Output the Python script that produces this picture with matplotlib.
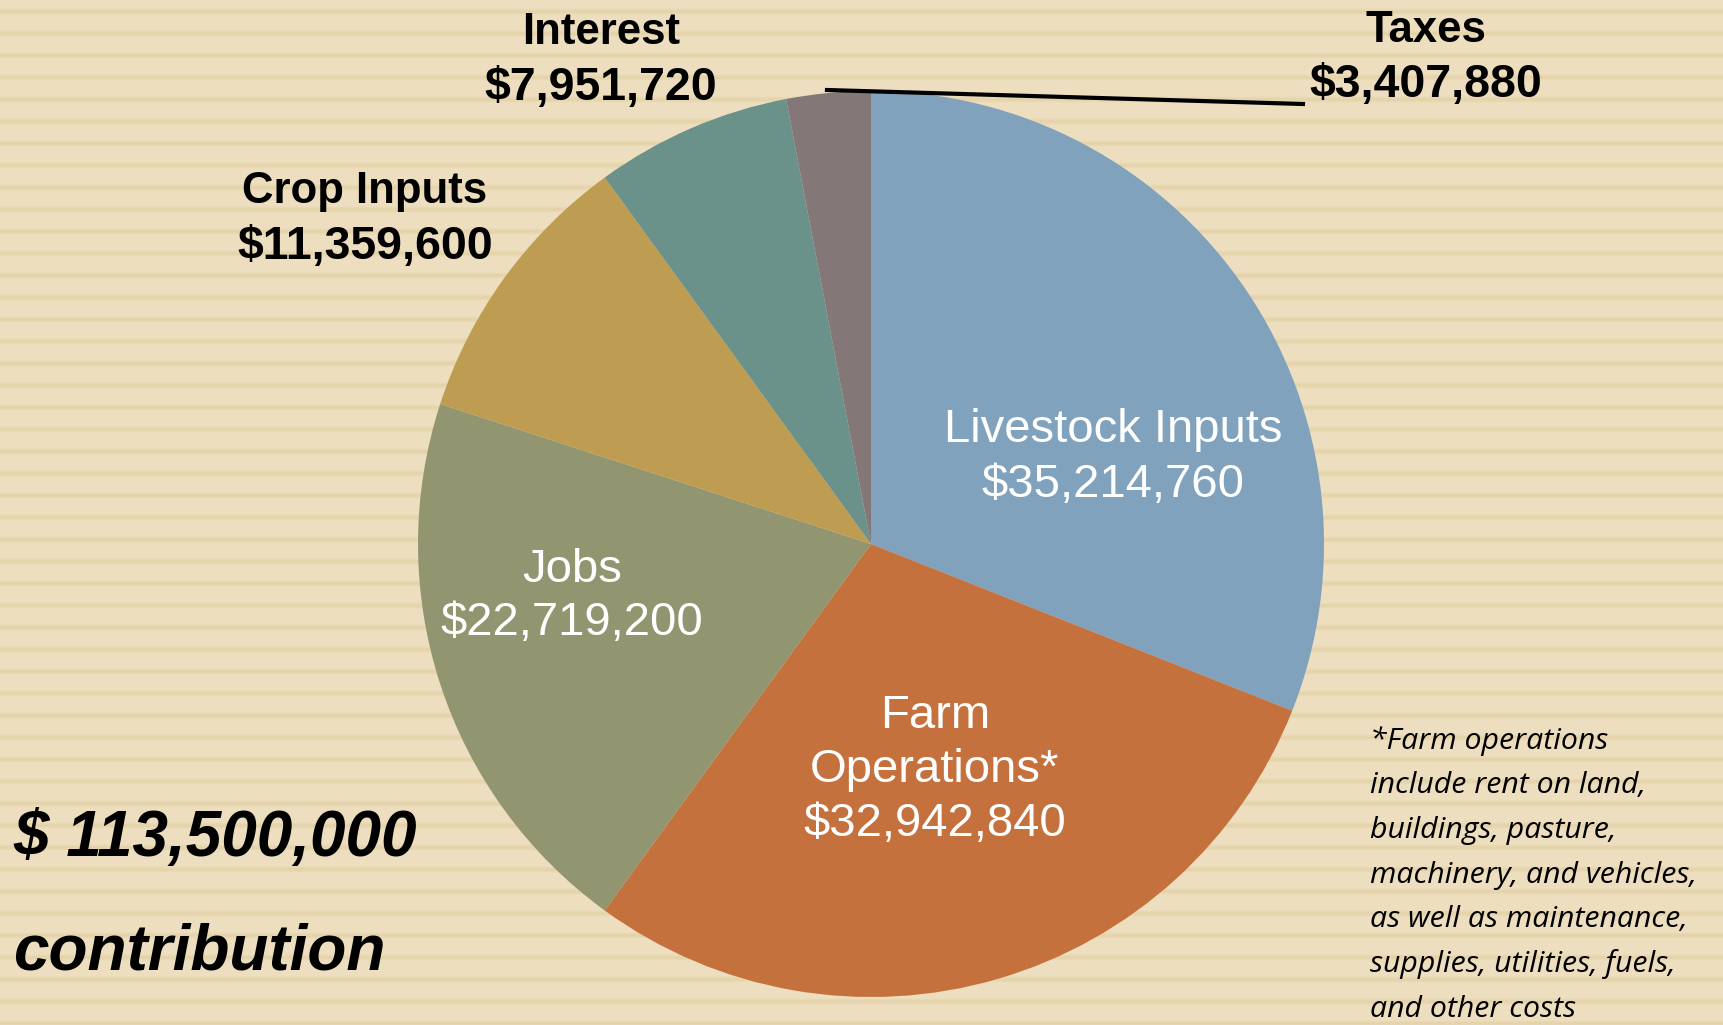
import numpy as np
import matplotlib
matplotlib.use("Agg")
import matplotlib.pyplot as plt

# ---- data ----
categories = ["Livestock Inputs", "Farm Operations*", "Jobs", "Crop Inputs", "Interest", "Taxes"]
values = [35214760, 32942840, 22719200, 11359600, 7951720, 3407880]
value_labels = ["$35,214,760", "$32,942,840", "$22,719,200", "$11,359,600", "$7,951,720", "$3,407,880"]
colors = ["#80A2BD", "#C4713E", "#929670", "#BE9C52", "#6A918A", "#837877"]
total_label = "$ 113,500,000"
footnote = ["*Farm operations", "include rent on land,", "buildings, pasture,",
            "machinery, and vehicles,", "as well as maintenance,",
            "supplies, utilities, fuels,", "and other costs"]

W, H = 1724, 1025
fig = plt.figure(figsize=(W / 100, H / 100), dpi=100)

# striped background
bg = fig.add_axes([0, 0, 1, 1])
rows = np.arange(H)
phase = (rows % 22) / 22.0
shade = np.exp(-((phase - 0.5) ** 2) / (2 * 0.08 ** 2))
light = np.array([238, 223, 193]) / 255
dark = np.array([229, 211, 170]) / 255
img = light[None, :] * (1 - shade[:, None]) + dark[None, :] * shade[:, None]
img = np.repeat(img[:, None, :], 8, axis=1)
bg.imshow(img, aspect="auto", extent=[0, 1, 0, 1], interpolation="bilinear")
bg.set_axis_off()

def px(x, y):
    return x / W, 1 - y / H

# pie
cx, cy, r = 871, 544, 453
ax = fig.add_axes([(cx - r) / W, (H - cy - r) / H, 2 * r / W, 2 * r / H])
ax.pie(values, colors=colors, startangle=90, counterclock=False, radius=1,
       wedgeprops=dict(linewidth=0))
ax.set_xlim(-1, 1)
ax.set_ylim(-1, 1)
ax.set_aspect("auto")
ax.set_axis_off()

# leader line for Taxes
x0, y0 = px(827, 90)
x1, y1 = px(1303, 104)
fig.add_artist(plt.Line2D([x0, x1], [y0, y1], transform=fig.transFigure, color="black", lw=3))

font = "Liberation Sans"
def t(x, y, s, **kw):
    fx, fy = px(x, y)
    fig.text(fx, fy, s, family=font, **kw)

# inside labels (white)
fs_in = 34
t(1113, 430, "Livestock Inputs", color="white", fontsize=fs_in, ha="center", va="center")
t(1113, 485, value_labels[0], color="white", fontsize=fs_in, ha="center", va="center")
t(935, 716, "Farm", color="white", fontsize=fs_in, ha="center", va="center")
t(935, 770, "Operations*", color="white", fontsize=fs_in, ha="center", va="center")
t(935, 824, value_labels[1], color="white", fontsize=fs_in, ha="center", va="center")
t(572, 570, "Jobs", color="white", fontsize=fs_in, ha="center", va="center")
t(572, 623, value_labels[2], color="white", fontsize=fs_in, ha="center", va="center")

# outside labels (black bold)
fs_l, fs_n = 31.5, 33.5
t(365, 192, "Crop Inputs", color="black", fontsize=fs_l, weight="bold", ha="center", va="center")
t(365, 247, value_labels[3], color="black", fontsize=fs_n, weight="bold", ha="center", va="center")
t(601, 33, "Interest", color="black", fontsize=fs_l, weight="bold", ha="center", va="center")
t(601, 88, value_labels[4], color="black", fontsize=fs_n, weight="bold", ha="center", va="center")
t(1426, 31, "Taxes", color="black", fontsize=fs_l, weight="bold", ha="center", va="center")
t(1426, 85, value_labels[5], color="black", fontsize=fs_n, weight="bold", ha="center", va="center")

# total
t(13, 839, total_label, color="black", fontsize=46, weight="bold", style="italic", ha="left", va="center")
t(13, 952, "contribution", color="black", fontsize=46, weight="bold", style="italic", ha="left", va="center")

# footnote
for i, line in enumerate(footnote):
    fx, fy = px(1370, 741 + i * 44.7)
    fig.text(fx, fy, line, family="Open Sans", style="italic", fontsize=21.8, color="black", ha="left", va="center")

fig.savefig("out.png", dpi=100)
